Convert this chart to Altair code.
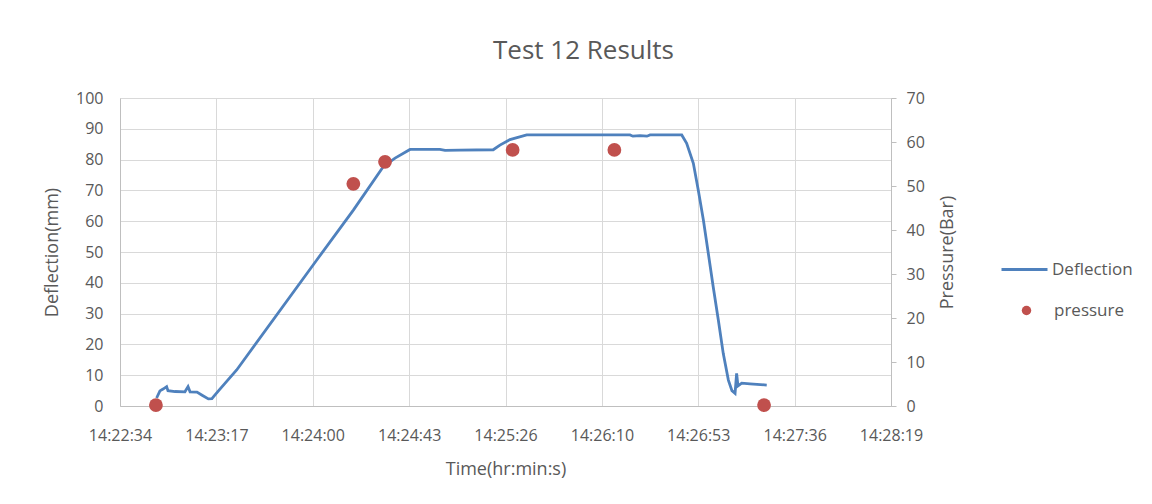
import json
import altair as alt
import pandas as pd

# Time in seconds elapsed since 14:22:33.6 (left edge of the time axis)
defl_t = [16.4, 17.9, 19.3, 20.9, 21.5, 24.7, 29.1, 30.5, 31.4, 34.5, 36.8, 39.6,
          41.2, 42.6, 44.8, 52.3, 88.2, 104.6, 118.0, 123.3, 130.0, 143.4, 145.7,
          152.4, 167.3, 170.3, 174.8, 182.3, 228.6, 229.9, 233.1, 236.2, 237.6,
          251.8, 254.0, 257.0, 259.2, 261.5, 263.7, 265.9, 268.2, 270.4, 272.7,
          274.3, 275.7, 276.4, 277.0, 278.7, 282.4, 289.9]
defl_mm = [2.6, 4.9, 5.5, 6.3, 5.0, 4.7, 4.6, 6.3, 4.6, 4.5, 3.5, 2.3,
           2.4, 3.6, 5.5, 11.7, 47.4, 63.6, 77.7, 80.5, 83.3, 83.3, 83.0,
           83.1, 83.2, 84.7, 86.5, 88.0, 88.0, 87.6, 87.8, 87.6, 88.0,
           88.0, 85.3, 78.8, 70.1, 60.4, 49.6, 38.7, 27.9, 17.1, 8.4,
           5.0, 4.1, 10.6, 6.5, 7.4, 7.2, 6.8]

press_t = [16.1, 104.6, 118.8, 176.0, 221.6, 288.7]
press_bar = [0.2, 50.5, 55.5, 58.2, 58.2, 0.2]

tick_step = 43.2
tick_labels = ["14:22:34", "14:23:17", "14:24:00", "14:24:43", "14:25:26",
               "14:26:10", "14:26:53", "14:27:36", "14:28:19"]
tick_values = [round(i * tick_step, 1) for i in range(len(tick_labels))]

defl_df = pd.DataFrame({"t": defl_t, "d": defl_mm, "s": "Deflection"})
press_df = pd.DataFrame({"t": press_t, "p": press_bar, "s": "pressure"})

FONT = "Open Sans"
GRAY = "#595959"
GRID = "#D9D9D9"
AXIS = "#BFBFBF"

label_expr = json.dumps(tick_labels) + f"[round(datum.value/{tick_step})]"

x_enc = alt.X(
    "t:Q",
    scale=alt.Scale(domain=[0, tick_values[-1]], nice=False, zero=False),
    axis=alt.Axis(
        values=tick_values, labelExpr=label_expr, title="Time(hr:min:s)",
        grid=True, gridColor=GRID, ticks=False, domainColor=AXIS,
        labelPadding=21, titlePadding=17, labelFlush=False,
    ),
)

line = alt.Chart(defl_df).mark_line(strokeWidth=2.8).encode(
    x=x_enc,
    y=alt.Y(
        "d:Q",
        scale=alt.Scale(domain=[0, 100], nice=False),
        axis=alt.Axis(
            values=list(range(0, 101, 10)), title="Deflection(mm)",
            grid=True, gridColor=GRID, ticks=False, domainColor=AXIS,
            labelPadding=17, titlePadding=14,
        ),
    ),
    color=alt.Color(
        "s:N",
        scale=alt.Scale(domain=["Deflection"], range=["#4F81BD"]),
        legend=alt.Legend(
            title=None, orient="none", legendX=880, legendY=147,
            symbolType="stroke", symbolSize=2116, symbolStrokeWidth=3,
            labelOffset=3, padding=0,
        ),
    ),
)

points = alt.Chart(press_df).mark_circle(size=190, opacity=1).encode(
    x=alt.X("t:Q"),
    y=alt.Y(
        "p:Q",
        scale=alt.Scale(domain=[0, 70], nice=False),
        axis=alt.Axis(
            orient="right", values=list(range(0, 71, 10)), title="Pressure(Bar)",
            grid=False, ticks=True, tickSize=5, tickColor=AXIS, domainColor=AXIS,
            labelPadding=10, titlePadding=14, titleAngle=270, titleBaseline="top",
        ),
    ),
    color=alt.Color(
        "s:N",
        scale=alt.Scale(domain=["pressure"], range=["#C0504D"]),
        legend=alt.Legend(
            title=None, orient="none", legendX=898, legendY=204,
            symbolType="circle", symbolSize=90, labelOffset=19, padding=0,
        ),
    ),
)

chart = (
    alt.layer(line, points)
    .resolve_scale(y="independent", color="independent")
    .properties(
        width=771, height=308,
        padding={"left": 112, "top": 90, "right": 250, "bottom": 88},
        autosize=alt.AutoSizeParams(type="none"),
        title=alt.Title(
            "Test 12 Results", fontSize=26, font=FONT, color=GRAY,
            fontWeight="normal", anchor="middle", dx=78, offset=26, frame="group",
        ),
    )
    .configure_view(stroke=None)
    .configure_axis(
        labelFont=FONT, titleFont=FONT, labelFontSize=16, titleFontSize=18,
        labelColor=GRAY, titleColor=GRAY, titleFontWeight="normal",
    )
    .configure_legend(labelFont=FONT, labelFontSize=17, labelColor=GRAY)
)

chart.save("out.html", embed_options={"renderer": "svg", "actions": False})
